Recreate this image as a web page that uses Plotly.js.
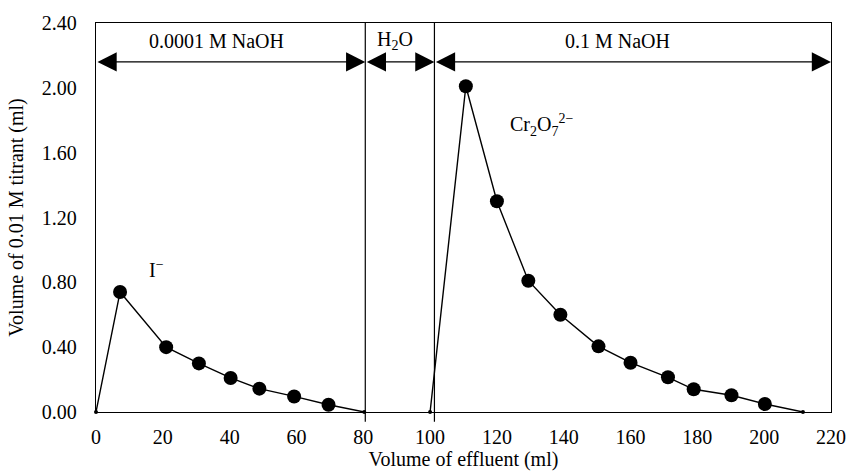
<!DOCTYPE html>
<html><head><meta charset="utf-8">
<script src="https://cdn.plot.ly/plotly-3.0.1.min.js"></script>
<style>html,body{margin:0;padding:0;background:#fff;}#chart{width:847px;height:474px;}</style>
</head><body><div id="chart"></div>
<script>
// Iodide elution (0.0001 M NaOH)
const iodideX = [0, 7.2, 21.0, 30.8, 40.3, 48.9, 59.3, 69.6, 80.3];
const iodideY = [0, 0.74, 0.40, 0.30, 0.21, 0.144, 0.096, 0.045, 0];
// Dichromate elution (0.1 M NaOH)
const cromX = [100.0, 110.7, 120.0, 129.4, 139.0, 150.4, 160.0, 171.2, 178.9, 190.2, 200.2, 211.6];
const cromY = [0, 2.01, 1.30, 0.81, 0.60, 0.405, 0.304, 0.214, 0.14, 0.103, 0.049, 0];
// Eluent zones
const zoneBounds = [0, 80.6, 101.3, 220];
const zoneLabels = ['0.0001 M NaOH', 'H<sub>2</sub>O', '0.1 M NaOH'];
const zoneLabelX = [36.1, 89.5, 156];
const arrowY = 2.16;
const labelY = 2.29;
const xTicks = [0, 20, 40, 60, 80, 100, 120, 140, 160, 180, 200, 220];
const yTicks = [0, 0.4, 0.8, 1.2, 1.6, 2.0, 2.4];

const FONT = 'Liberation Serif, Times New Roman, serif';
function sizes(ys){ return ys.map(v => v === 0 ? 4 : 14); }

const traces = [
  {x: iodideX, y: iodideY, mode: 'lines+markers', type: 'scatter',
   line: {color: '#000', width: 1.4}, marker: {color: '#000', opacity: 1, line: {width: 0}, size: sizes(iodideY)}, cliponaxis: false, hoverinfo: 'skip'},
  {x: cromX, y: cromY, mode: 'lines+markers', type: 'scatter',
   line: {color: '#000', width: 1.4}, marker: {color: '#000', opacity: 1, line: {width: 0}, size: sizes(cromY)}, cliponaxis: false, hoverinfo: 'skip'}
];

const annotations = [];
const shapes = [];
for (let i = 0; i < zoneLabels.length; i++) {
  annotations.push({x: zoneBounds[i+1], y: arrowY, ax: zoneBounds[i], ay: arrowY,
    xref: 'x', yref: 'y', axref: 'x', ayref: 'y', text: '', showarrow: true,
    arrowhead: 2, startarrowhead: 2, arrowside: 'end+start', arrowsize: 3.2, startarrowsize: 3.2,
    arrowwidth: 1.2, arrowcolor: '#000', standoff: 0, startstandoff: 0});
  annotations.push({x: zoneLabelX[i], y: labelY, xref: 'x', yref: 'y', text: zoneLabels[i],
    showarrow: false, font: {family: FONT, size: 20, color: '#000'}});
}
for (let i = 1; i < zoneBounds.length - 1; i++) {
  shapes.push({type: 'line', xref: 'x', yref: 'paper', x0: zoneBounds[i], x1: zoneBounds[i], y0: -0.025, y1: 1,
    line: {color: '#000', width: 1.2}});
}
annotations.push({x: 18.2, y: 0.88, xref: 'x', yref: 'y', text: 'I<sup>−</sup>', showarrow: false,
  font: {family: FONT, size: 20, color: '#000'}});
annotations.push({x: 133.4, y: 1.77, xref: 'x', yref: 'y', text: 'Cr<sub>2</sub>O<sub>7</sub><sup>2−</sup>', showarrow: false,
  font: {family: FONT, size: 20, color: '#000'}});

const layout = {
  width: 847, height: 474,
  margin: {l: 96, r: 16, t: 23, b: 62},
  paper_bgcolor: '#fff', plot_bgcolor: '#fff',
  showlegend: false,
  font: {family: FONT, size: 20, color: '#000'},
  xaxis: {range: [0, 220], tickvals: xTicks, ticktext: xTicks.map(String), showgrid: false, zeroline: false,
    showline: true, mirror: true, linecolor: '#000', linewidth: 1.2, ticks: '', ticklen: 0, ticklabelstandoff: 7,
    tickfont: {family: FONT, size: 20}, title: {text: 'Volume of effluent (ml)', font: {family: FONT, size: 20}, standoff: 0}},
  yaxis: {range: [0, 2.4], tickvals: yTicks, ticktext: yTicks.map(v => v.toFixed(2)), showgrid: false, zeroline: false,
    showline: true, mirror: true, linecolor: '#000', linewidth: 1.2, ticks: '', ticklen: 0, ticklabelstandoff: 14,
    tickfont: {family: FONT, size: 20}, title: {text: 'Volume of 0.01 M titrant (ml)', font: {family: FONT, size: 20}, standoff: 12}},
  annotations: annotations,
  shapes: shapes
};
Plotly.newPlot('chart', traces, layout, {displayModeBar: false, staticPlot: true});
</script></body></html>
